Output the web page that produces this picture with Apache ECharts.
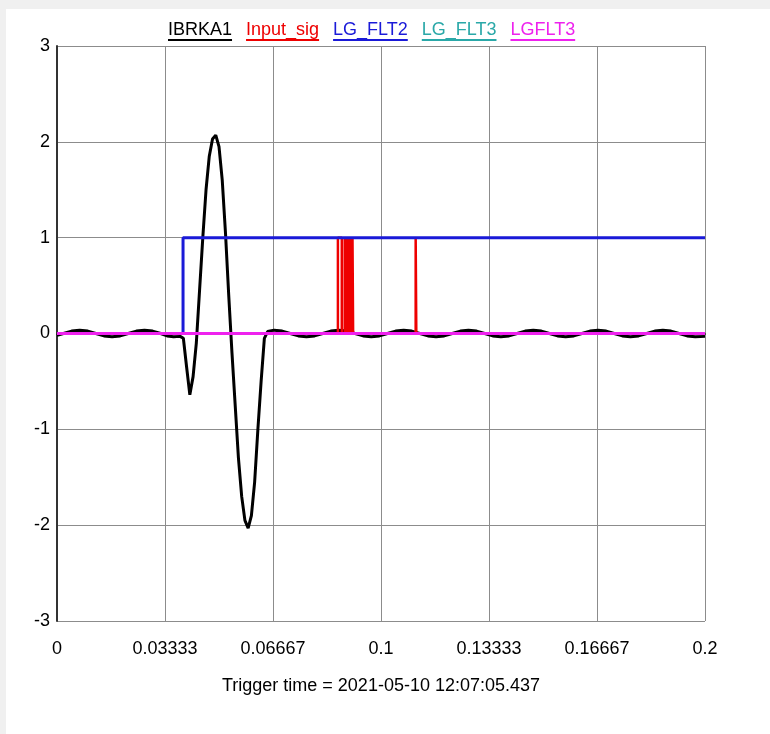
<!DOCTYPE html>
<html>
<head>
<meta charset="utf-8">
<script src="https://cdn.jsdelivr.net/npm/echarts@6/dist/echarts.min.js"></script>
<style>
  html, body { margin: 0; padding: 0; background: #f0f0f0; }
  #panel { position: absolute; left: 6px; top: 9px; width: 764px; height: 725px; background: #fff; }
  #chart { position: absolute; left: 0; top: 0; width: 770px; height: 734px; }
</style>
</head>
<body>
<div id="panel"></div>
<div id="chart"></div>
<script>
// series names and colours, in legend order
const names = ['IBRKA1', 'Input_sig', 'LG_FLT2', 'LG_FLT3', 'LGFLT3']
const colors = ['#000000', '#ee0000', '#1a1ad8', '#2aa8a8', '#ee22ee']

// x tick labels, every 1/30 s
const xTickLabels = ['0', '0.03333', '0.06667', '0.1', '0.13333', '0.16667', '0.2']

// IBRKA1
const blackT = [0, 0.002, 0.0045, 0.007, 0.0095, 0.012, 0.0145, 0.017, 0.0195, 0.022, 0.0245, 0.027, 0.0295, 0.032, 0.034, 0.036, 0.038,
  0.039, 0.040, 0.041, 0.042, 0.043, 0.044, 0.045, 0.046, 0.047, 0.048, 0.049, 0.050, 0.051, 0.052, 0.053, 0.054, 0.055,
  0.056, 0.057, 0.058, 0.059, 0.060, 0.061, 0.062, 0.063, 0.064, 0.065,
  0.067, 0.0695, 0.072, 0.0745, 0.077, 0.0795, 0.082, 0.0845, 0.087, 0.0895, 0.092, 0.0945, 0.097, 0.0995,
  0.102, 0.1045, 0.107, 0.1095, 0.112, 0.1145, 0.117, 0.1195, 0.122, 0.1245, 0.127, 0.1295, 0.132, 0.1345, 0.137, 0.1395,
  0.142, 0.1445, 0.147, 0.1495, 0.152, 0.1545, 0.157, 0.1595, 0.162, 0.1645, 0.167, 0.1695, 0.172, 0.1745, 0.177, 0.1795,
  0.182, 0.1845, 0.187, 0.1895, 0.192, 0.1945, 0.197, 0.2]
const blackV = [-0.02, 0, 0.025, 0.035, 0.025, 0, -0.025, -0.035, -0.025, 0, 0.025, 0.035, 0.025, 0, -0.025, -0.035, -0.03,
  -0.05, -0.35, -0.64, -0.45, -0.1, 0.45, 1.0, 1.5, 1.85, 2.03, 2.07, 1.95, 1.6, 1.05, 0.4, -0.2, -0.75,
  -1.3, -1.7, -1.95, -2.03, -1.9, -1.55, -1.0, -0.5, -0.05, 0.02,
  0.035, 0.025, 0, -0.025, -0.035, -0.025, 0, 0.025, 0.035, 0.025, 0, -0.025, -0.035, -0.025,
  0, 0.025, 0.035, 0.025, 0, -0.025, -0.035, -0.025, 0, 0.025, 0.035, 0.025, 0, -0.025, -0.035, -0.025,
  0, 0.025, 0.035, 0.025, 0, -0.025, -0.035, -0.025, 0, 0.025, 0.035, 0.025, 0, -0.025, -0.035, -0.025,
  0, 0.025, 0.035, 0.025, 0, -0.025, -0.035, -0.03]

// Input_sig pulses (one short pulse, a burst, one spike)
const redT = [0, 0.0867, 0.0867, 0.0879, 0.0879,
  0.0888, 0.0888, 0.0891, 0.0891, 0.0892, 0.0892, 0.0895, 0.0895, 0.0896, 0.0896, 0.0899, 0.0899,
  0.0900, 0.0900, 0.0903, 0.0903, 0.0904, 0.0904, 0.0907, 0.0907, 0.0908, 0.0908, 0.0911, 0.0911,
  0.0912, 0.0912, 0.0914, 0.0914,
  0.1107, 0.1107, 0.1109, 0.1109, 0.2]
const redV = [0, 0, 1, 1, 0,
  0, 1, 1, 0, 0, 1, 1, 0, 0, 1, 1, 0,
  0, 1, 1, 0, 0, 1, 1, 0, 0, 1, 1, 0,
  0, 1, 1, 0,
  0, 1, 1, 0, 0]

// LG_FLT2 step
const blueT = [0, 0.0389, 0.0389, 0.2]
const blueV = [0, 0, 1, 1]

// LG_FLT3 / LGFLT3 stay at zero
const flatT = [0, 0.2]
const flatV = [0, 0]

const FONT = '"Liberation Sans", Arial, sans-serif'

function zip (t, v) {
  return t.map((x, i) => [x, v[i]])
}

function makeSeries (i, t, v, width) {
  return {
    name: names[i],
    type: 'line',
    data: zip(t, v),
    showSymbol: false,
    symbol: 'none',
    animation: false,
    color: colors[i],
    lineStyle: { color: colors[i], width: width }
  }
}

// legend text with a coloured underline
const rich = {}
names.forEach((n, i) => {
  rich['t' + i] = { color: colors[i], fontSize: 18, fontFamily: FONT, lineHeight: 18 }
  rich['u' + i] = { width: '100%', height: 2, lineHeight: 2, backgroundColor: colors[i] }
})

const chart = echarts.init(document.getElementById('chart'))
chart.setOption({
  backgroundColor: 'transparent',
  animation: false,
  legend: {
    top: 16,
    left: 158,
    icon: 'none',
    itemWidth: 0,
    itemHeight: 0,
    itemGap: 9,
    data: names,
    formatter: name => {
      const i = names.indexOf(name)
      return `{t${i}|${name}}\n{u${i}|}`
    },
    textStyle: { rich: rich }
  },
  grid: {
    left: 57,
    right: 65,
    top: 46,
    bottom: 113
  },
  xAxis: {
    type: 'value',
    min: 0,
    max: 0.2,
    interval: 1 / 30,
    name: 'Trigger time = 2021-05-10 12:07:05.437',
    nameLocation: 'middle',
    nameGap: 56,
    nameTextStyle: { color: '#000', fontSize: 18, fontFamily: FONT },
    axisLine: { lineStyle: { color: '#333', width: 2 } },
    axisTick: { show: false },
    axisLabel: {
      color: '#000',
      fontSize: 18,
      fontFamily: FONT,
      margin: 19,
      formatter: v => xTickLabels[Math.round(v * 30)]
    },
    splitLine: { show: true, lineStyle: { color: '#8c8c8c', width: 1 } }
  },
  yAxis: {
    type: 'value',
    min: -3,
    max: 3,
    interval: 1,
    axisLine: { show: true, lineStyle: { color: '#333', width: 2 } },
    axisTick: { show: false },
    axisLabel: { color: '#000', fontSize: 18, fontFamily: FONT, margin: 7 },
    splitLine: { show: true, lineStyle: { color: '#8c8c8c', width: 1 } }
  },
  series: [
    makeSeries(0, blackT, blackV, 3),
    makeSeries(1, redT, redV, 2.5),
    makeSeries(2, blueT, blueV, 3),
    makeSeries(3, flatT, flatV, 3),
    makeSeries(4, flatT, flatV, 3)
  ]
})
</script>
</body>
</html>
